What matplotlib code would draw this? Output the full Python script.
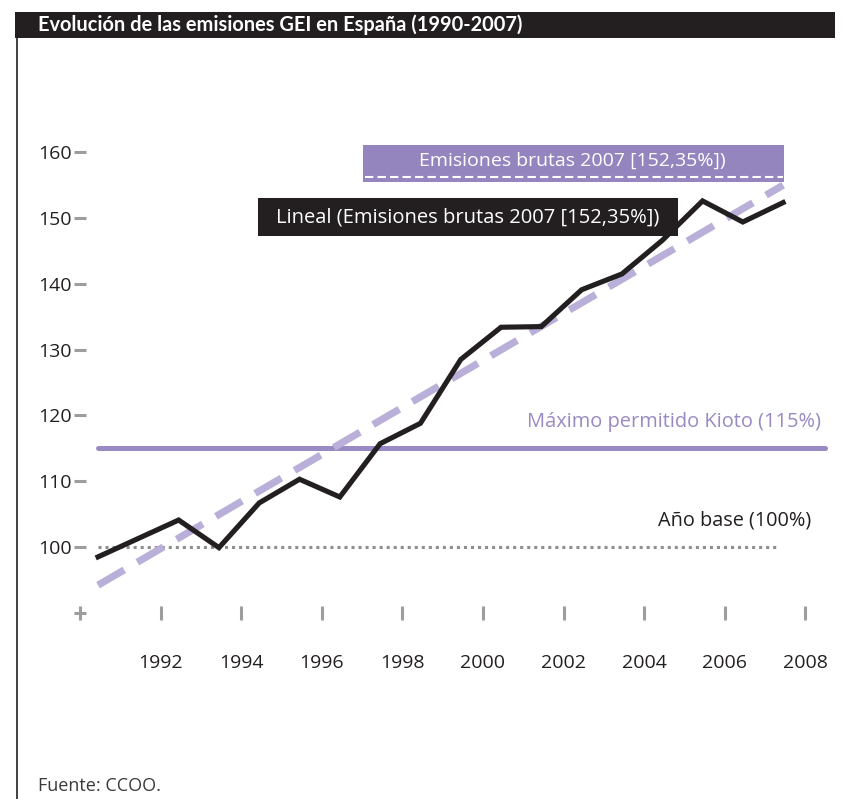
import matplotlib
matplotlib.use("Agg")
import matplotlib.pyplot as plt
from matplotlib.patches import Rectangle
from matplotlib.lines import Line2D

plt.rcParams['font.family'] = ['Open Sans', 'DejaVu Sans']

# datos (índice 1990 = 100)
years = list(range(1990, 2008))
emisiones = [98.5, 101.3, 104.1, 99.9, 106.7, 110.3, 107.6, 115.7, 118.8, 128.5,
             133.4, 133.5, 139.1, 141.5, 146.6, 152.6, 149.4, 152.35]
tendencia_x = [1990, 2007]
tendencia_y = [94.2, 155.0]
kioto = 115
base = 100
xtick_labels = ['', '1992', '1994', '1996', '1998', '2000', '2002', '2004', '2006', '2008']
ytick_vals = [90, 100, 110, 120, 130, 140, 150, 160]
ytick_labels = ['', '100', '110', '120', '130', '140', '150', '160']

W, H = 843, 799
fig = plt.figure(figsize=(W / 100, H / 100), dpi=100)

def fx(px):
    return px / W

def fy(py):
    return 1 - py / H

# eje: 40.3 px por año, 1990 en x=98 px
x0 = 1990 - 0.45
x1 = 1990 + 18.3
ax = fig.add_axes([fx(79.9), fy(612.8), (x1 - x0) * 40.3 / W, (612.8 - 132.5) / H])
ax.set_xlim(x0, x1)
ax.set_ylim(90, 163)
for s in ax.spines.values():
    s.set_visible(False)

dark = '#231f20'
purple = '#9a8ac3'
lav = '#b9afd8'
grey = '#9d9d9d'

ax.plot([1990, 2008.03], [kioto, kioto], color=purple, lw=3.6, solid_capstyle='round', zorder=2)
ax.plot([1990, 2006.9], [base, base], color='#8f8f8f', lw=2.2, dashes=(1, 1.3), zorder=2)
ax.plot(tendencia_x, tendencia_y, color=lav, lw=5.2, dashes=(4.2, 2.1), zorder=3)
ax.plot(years, emisiones, color=dark, lw=3.7, solid_joinstyle='miter', zorder=4)

ax.set_yticks(ytick_vals)
ax.set_yticklabels(ytick_labels)
ax.set_xticks([x0 + 2 * k for k in range(10)])
ax.set_xticklabels(xtick_labels)
ax.tick_params(axis='y', direction='inout', length=8.6, width=2.2, color=grey,
               pad=1.5, labelsize=14, labelcolor=dark)
ax.tick_params(axis='x', direction='inout', length=9.4, width=2.2, color=grey,
               pad=25, labelsize=14, labelcolor=dark)

ax.text(2007.95, 117.5, 'Máximo permitido Kioto (115%)', color=purple, fontsize=14.4,
        ha='right', va='bottom')
ax.text(2007.7, 102.5, 'Año base (100%)', color=dark, fontsize=14.3, ha='right', va='bottom')

# cabecera
fig.add_artist(Rectangle((fx(15), fy(38)), fx(835) - fx(15), fy(12) - fy(38),
                         transform=fig.transFigure, color=dark, lw=0))
fig.text(fx(38), fy(25), 'Evolución de las emisiones GEI en España (1990-2007)', color='white',
         fontsize=14.4, fontweight='bold', va='center', ha='left',
         family=['Lato', 'DejaVu Sans'])
fig.add_artist(Line2D([fx(17), fx(17)], [fy(38), 0], transform=fig.transFigure,
                      color=dark, lw=1.2))

# leyendas
fig.add_artist(Rectangle((fx(363), fy(182)), fx(784) - fx(363), fy(145) - fy(182),
                         transform=fig.transFigure, color='#9585bf', lw=0))
fig.add_artist(Line2D([fx(365), fx(783)], [fy(177), fy(177)], transform=fig.transFigure,
                      color='white', lw=1.5, dashes=(4, 2)))
fig.text(fx(572), fy(161), 'Emisiones brutas 2007 [152,35%])', color='white', fontsize=14,
         ha='center', va='center')
fig.add_artist(Rectangle((fx(258), fy(236)), fx(678) - fx(258), fy(198) - fy(236),
                         transform=fig.transFigure, color=dark, lw=0))
fig.text(fx(468), fy(217), 'Lineal (Emisiones brutas 2007 [152,35%])', color='white',
         fontsize=14.5, ha='center', va='center')

fig.text(fx(38), fy(786), 'Fuente: CCOO.', color='#3a3a3a', fontsize=13, ha='left', va='center')

fig.savefig('out.png', dpi=100)
